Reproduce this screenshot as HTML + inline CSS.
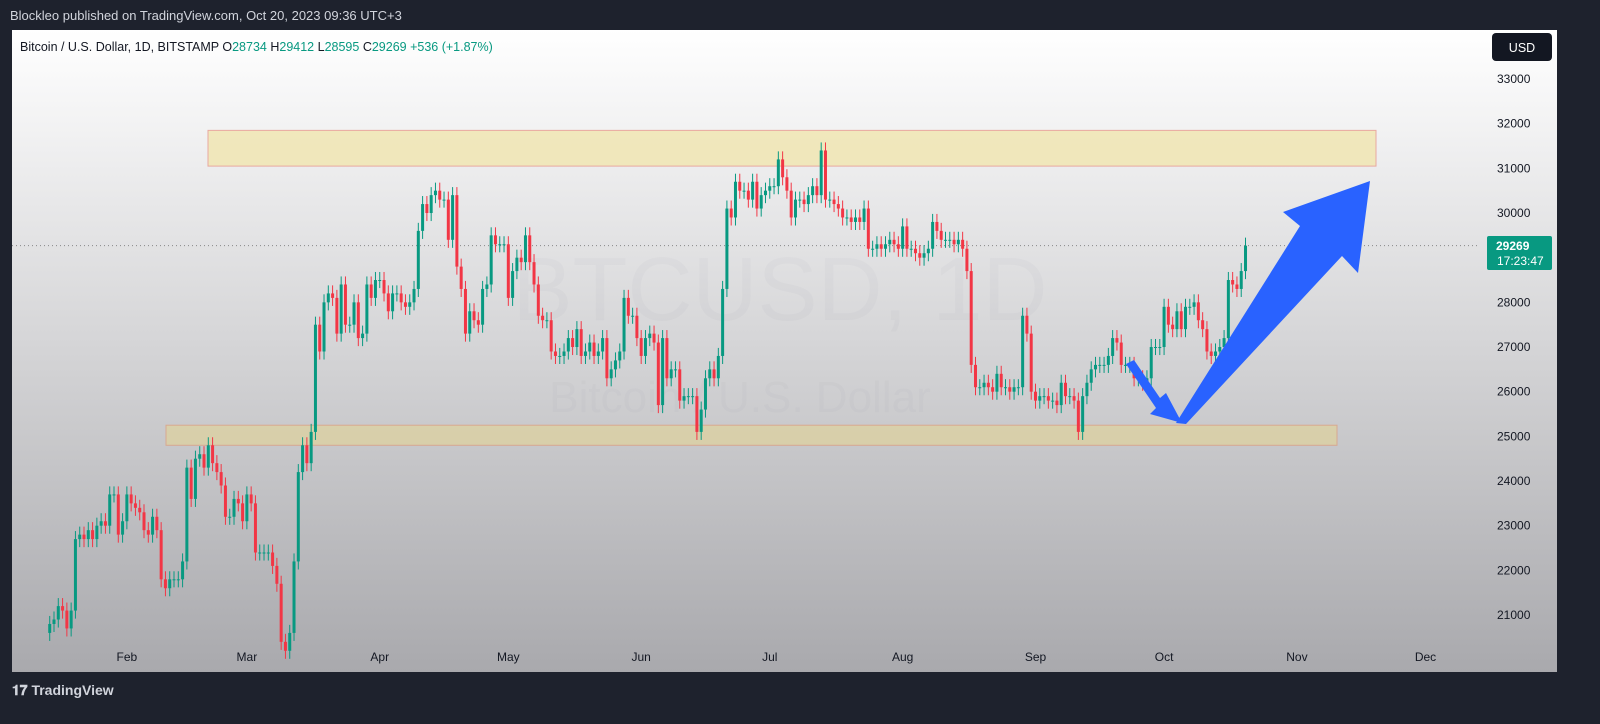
<!DOCTYPE html>
<html><head><meta charset="utf-8"><style>
body{margin:0;width:1600px;height:724px;background:#1e222d;font-family:"Liberation Sans",sans-serif;overflow:hidden;position:relative}
#hdr{position:absolute;left:10px;top:8px;color:#d1d4dc;font-size:13px}
#foot{position:absolute;left:12px;top:682px;color:#d1d4dc;font-size:14px;font-weight:bold}
svg{position:absolute;left:0;top:0}
</style></head><body>
<div id="hdr">Blockleo published on TradingView.com, Oct 20, 2023 09:36 UTC+3</div>
<div id="foot">𝟏𝟕 TradingView</div>
<svg id="c" width="1600" height="724">
<defs><linearGradient id="bg" x1="0" y1="0" x2="0" y2="1"><stop offset="0" stop-color="#ffffff"/><stop offset="1" stop-color="#a9a9ad"/></linearGradient></defs>
<rect x="12" y="30" width="1545" height="642" fill="url(#bg)"/>
<text x="780" y="320" font-size="90" fill="rgba(120,120,130,0.045)" text-anchor="middle">BTCUSD, 1D</text>
<text x="740" y="412" font-size="44" fill="rgba(120,120,130,0.045)" text-anchor="middle">Bitcoin / U.S. Dollar</text>
<text x="20" y="51" font-size="12.5" fill="#131722">Bitcoin / U.S. Dollar, 1D, BITSTAMP  <tspan>O</tspan><tspan fill="#089981">28734</tspan> H<tspan fill="#089981">29412</tspan> L<tspan fill="#089981">28595</tspan> C<tspan fill="#089981">29269 +536 (+1.87%)</tspan></text>
<g id="zones"></g><g id="grid"></g><g id="candles"></g><g id="axis"></g>
<rect x="1492" y="33" width="60" height="28" rx="4" fill="#131722"/>
<text x="1522" y="52" font-size="12.5" fill="#fff" text-anchor="middle">USD</text>
</svg>
<script>
const closes=[20800,20900,21200,21100,20700,21100,22700,
22800,22700,22900,22700,23000,23100,23000,23700,23700,22800,23100,
23700,23500,23400,23300,22900,22800,23200,22900,21800,21600,
21800,21800,21800,22200,24300,23600,24500,24600,24300,24800,
24400,24200,23900,23200,23200,23600,23500,23100,
23700,23500,22400,22400,22400,22400,22100,21700,20400,20200,
20600,22200,24200,24800,24400,25100,27500,26900,28000,28200,
28100,27300,28400,27500,27500,28000,27200,27300,28400,28100,28500,
28500,28200,27800,28200,28200,28000,27900,28000,28300,29600,
30200,30000,30400,30500,30300,30300,29400,30400,28800,28300,
27300,27800,27600,27500,28300,28400,29500,29300,29300,29300,
28100,28700,29000,28900,29500,28900,28400,27700,27600,27600,
26900,26800,26800,26900,27200,27000,27400,26800,26900,27100,
26800,26900,27200,26300,26500,26700,26900,28100,27700,27700,27200,
26800,27200,27300,27100,25700,27200,26300,26500,26500,25800,
25900,25900,25900,25100,25600,26300,26500,26300,26800,28300,
30100,29900,30700,30500,30500,30300,30700,30100,30400,30500,
30600,30600,31200,30800,30500,29900,30300,30300,30200,30400,
30600,30400,31400,30300,30300,30200,30100,29900,29900,29800,
29900,29800,30100,29200,29200,29300,29200,29300,29400,29300,29200,
29700,29200,29200,29100,29000,29100,29200,29800,29600,29400,
29400,29400,29300,29400,29200,28700,26600,26100,26100,26200,
26100,26000,26400,26100,26100,26000,26100,26100,27700,27300,26000,
25800,25900,25900,25800,25800,25700,26200,25900,25900,25800,
25100,25900,26200,26500,26600,26600,26600,26800,27200,27100,
26600,26600,26600,26300,26300,26200,26300,27000,27000,27000,
27900,27500,27400,27800,27400,27900,27900,28000,27600,27400,
26900,26800,26900,27000,27200,28500,28400,28300,28700,29269];
const firstDay=13;
const priceTicks=[21000,22000,23000,24000,25000,26000,27000,28000,29000,30000,31000,32000,33000];
const monthLabels=["Feb","Mar","Apr","May","Jun","Jul","Aug","Sep","Oct","Nov","Dec"];
const monthDays=[31,59,90,120,151,181,212,243,273,304,334];
const zoneTop=[31050,31850], zoneBottom=[24800,25250];
const lastPrice=29269;
const NS="http://www.w3.org/2000/svg";
const y=p=>79+(33000-p)*0.04467;
const x=d=>-6+d*4.286;
function mk(tag,attrs,parent){const e=document.createElementNS(NS,tag);for(const k in attrs)e.setAttribute(k,attrs[k]);document.getElementById(parent).appendChild(e);return e;}
let e;
e=mk('rect',{x:208,y:y(zoneTop[1]),width:1168,height:y(zoneTop[0])-y(zoneTop[1]),fill:'rgba(240,228,170,0.75)',stroke:'#e8a8a0'},'zones');


e=mk('rect',{x:166,y:y(zoneBottom[1]),width:1171,height:y(zoneBottom[0])-y(zoneBottom[1]),fill:'rgba(235,215,130,0.45)',stroke:'#d8a890'},'zones');


priceTicks.forEach(p=>{
 e=mk('text',{x:1497,y:y(p)+4,'font-size':12,fill:'#131722'},'axis');e.textContent=p;
 
 
});
monthLabels.forEach((m,i)=>{
 e=mk('text',{x:x(monthDays[i]),y:661,'font-size':12,fill:'#131722','text-anchor':'middle'},'axis');e.textContent=m;
 
 
});
e=mk('line',{x1:12,x2:1480,y1:y(lastPrice),y2:y(lastPrice),stroke:'#888','stroke-dasharray':'1 3'},'grid');


let prev=closes[0]-200;
closes.forEach((c,i)=>{
 const o=prev;prev=c;const up=c>=o;const col=up?'#089981':'#f23645';const cx=x(firstDay+i);
 const hi=Math.max(o,c)+180,lo=Math.min(o,c)-180;
 e=mk('line',{x1:cx,x2:cx,y1:y(hi),y2:y(lo),stroke:col,'stroke-width':1},'candles');
 
 
 const t=y(Math.max(o,c)),b=y(Math.min(o,c));
 e=mk('rect',{x:cx-1.5,y:t,width:3,height:Math.max(1,b-t),fill:col},'candles');
 
 
});
e=mk('polygon',{points:'1126,364 1134,360 1160,398 1166,393 1182,423 1150,414 1156,408',fill:'#2962ff'},'candles');


e=mk('polygon',{points:'1176,423 1300,226 1283,212 1370,181 1358,273 1342,256 1186,424',fill:'#2962ff'},'candles');


e=mk('rect',{x:1487,y:236,width:65,height:34,rx:2,fill:'#089981'},'axis');


e=mk('text',{x:1496,y:250,'font-size':12,'font-weight':'bold',fill:'#fff'},'axis');e.textContent='29269';


e=mk('text',{x:1497,y:265,'font-size':12,fill:'#fff'},'axis');e.textContent='17:23:47';


</script>
</body></html>
